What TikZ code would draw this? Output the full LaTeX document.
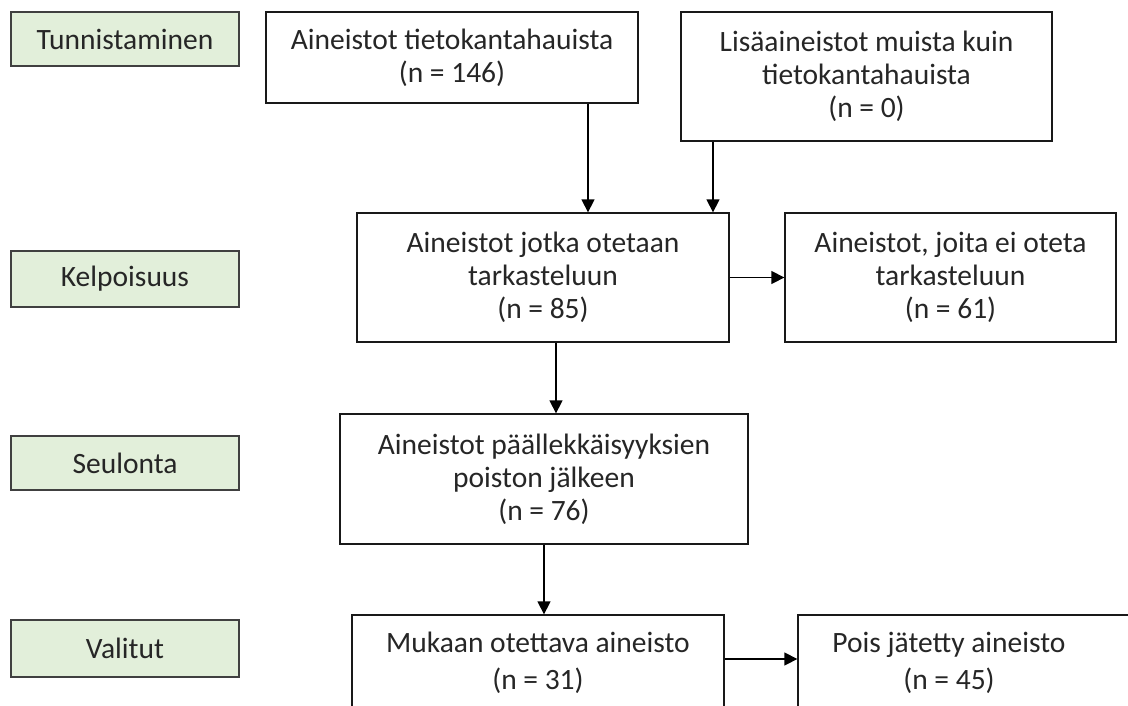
\documentclass[tikz,border=0pt]{standalone}
\usepackage{fontspec}
\setmainfont{Carlito}
\usetikzlibrary{arrows.meta}
\definecolor{stagegreen}{HTML}{E2EFDA}
\definecolor{inkc}{HTML}{262626}
\begin{document}
\begin{tikzpicture}[x=1pt,y=-1pt,
  box/.style={draw=black!90, line width=1.3pt, fill=white, align=center,
    text=inkc, font=\fontsize{29.5}{33}\selectfont, inner sep=0pt},
  stage/.style={draw=black!75, line width=1.3pt, fill=stagegreen, text=inkc,
    font=\fontsize{29.5}{33}\selectfont, minimum width=228pt, inner sep=0pt},
  txt/.style={align=center, text=inkc, font=\fontsize{29.5}{37}\selectfont, inner sep=0pt},
  arr/.style={-{Triangle[length=13pt,width=13pt]}, line width=1.3pt, draw=black}]
\useasboundingbox (0,0) rectangle (1128,705);
\fill[white] (0,0) rectangle (1128,705);
\clip (0,0) rectangle (1128,705);
% stage labels
\node[stage, minimum height=54pt] (s1) at (125,39) {Tunnistaminen};
\node[stage, minimum height=56pt] (s2) at (125,279) {Kelpoisuus};
\node[stage, minimum height=54pt] (s3) at (125,463) {Seulonta};
\node[stage, minimum height=57pt] (s4) at (125,648.5) {Valitut};
% flow boxes
\node[box, minimum width=372pt, minimum height=91pt] (A) at (452,57.5)
  {Aineistot tietokantahauista\\(n = 146)};
\node[box, minimum width=371pt, minimum height=129pt] (B) at (866.5,76.5)
  {Lisäaineistot muista kuin\\tietokantahauista\\(n = 0)};
\node[box, minimum width=372pt, minimum height=129pt] (C) at (543,277.5)
  {Aineistot jotka otetaan\\tarkasteluun\\(n = 85)};
\node[box, minimum width=331pt, minimum height=129pt] (D) at (950.5,277.5)
  {Aineistot, joita ei oteta\\tarkasteluun\\(n = 61)};
\node[box, minimum width=408pt, minimum height=130pt] (E) at (544,479)
  {Aineistot päällekkäisyyksien\\poiston jälkeen\\(n = 76)};
\node[box, minimum width=372pt, minimum height=95pt] (F) at (538,662.5) {};
\node[txt] (Ft) at (F.center) {Mukaan otettava aineisto\\(n = 31)};
\node[box, minimum width=360pt, minimum height=95pt] (G) at (978,662.5) {};
\node[txt] (Gt) at (949,662.5) {Pois jätetty aineisto\\(n = 45)};
% connector columns
\coordinate (xa) at (588,0);
\coordinate (xb) at (713,0);
\coordinate (xc) at (556,0);
\coordinate (xe) at (544,0);
\coordinate (yf) at (0,659);
% connectors
\draw[arr] (xa |- A.south) -- (xa |- C.north);
\draw[arr] (xb |- B.south) -- (xb |- C.north);
\draw[arr] (C.east) -- (D.west);
\draw[arr] (xc |- C.south) -- (xc |- E.north);
\draw[arr] (xe |- E.south) -- (xe |- F.north);
\draw[arr] (F.east |- yf) -- (G.west |- yf);
\end{tikzpicture}
\end{document}
